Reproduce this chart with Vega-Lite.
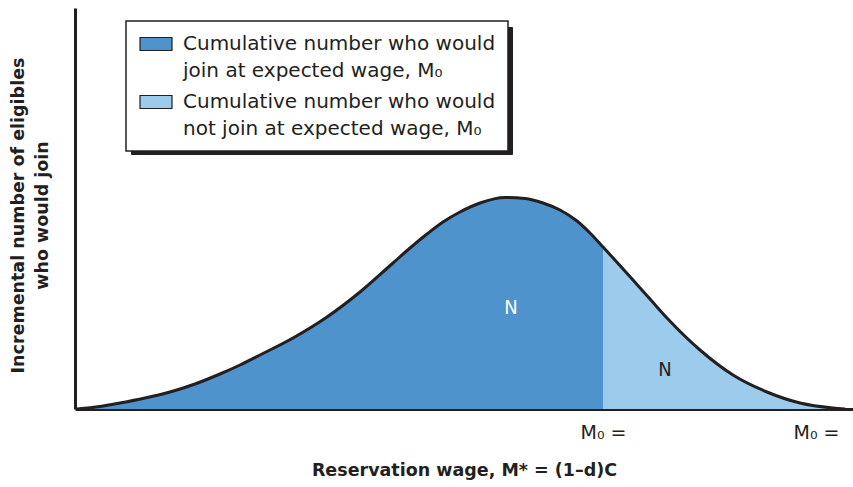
{
  "$schema": "https://vega.github.io/schema/vega-lite/v6.json",
  "autosize": {"type": "none"},
  "padding": {"left": 75, "top": 8, "right": 0, "bottom": 78},
  "width": 778,
  "height": 401,
  "background": "white",
  "config": {
    "view": {"stroke": null},
    "font": "DejaVu Sans",
    "axis": {"domainColor": "#231f20", "domainWidth": 3, "grid": false, "ticks": false, "tickSize": 0, "titleColor": "#231f20", "labelColor": "#231f20", "titleFont": "DejaVu Sans", "labelFont": "DejaVu Sans"}
  },
  "datasets": {
    "curve": [
      {"x": 2, "y": 0, "group": "join"},
      {"x": 25, "y": 2.5, "group": "join"},
      {"x": 45, "y": 6, "group": "join"},
      {"x": 70, "y": 11, "group": "join"},
      {"x": 95, "y": 17, "group": "join"},
      {"x": 120, "y": 25, "group": "join"},
      {"x": 145, "y": 35, "group": "join"},
      {"x": 165, "y": 44, "group": "join"},
      {"x": 185, "y": 54, "group": "join"},
      {"x": 218, "y": 71, "group": "join"},
      {"x": 252, "y": 92, "group": "join"},
      {"x": 285, "y": 117, "group": "join"},
      {"x": 318, "y": 146, "group": "join"},
      {"x": 335, "y": 161, "group": "join"},
      {"x": 352, "y": 175, "group": "join"},
      {"x": 368, "y": 187, "group": "join"},
      {"x": 385, "y": 197, "group": "join"},
      {"x": 405, "y": 206, "group": "join"},
      {"x": 430, "y": 211.5, "group": "join"},
      {"x": 450, "y": 210.5, "group": "join"},
      {"x": 468, "y": 206, "group": "join"},
      {"x": 485, "y": 199, "group": "join"},
      {"x": 502, "y": 188, "group": "join"},
      {"x": 515, "y": 176, "group": "join"},
      {"x": 528, "y": 162, "group": "join"},
      {"x": 528, "y": 162, "group": "notjoin"},
      {"x": 558, "y": 129, "group": "notjoin"},
      {"x": 575, "y": 110, "group": "notjoin"},
      {"x": 592, "y": 91, "group": "notjoin"},
      {"x": 625, "y": 59, "group": "notjoin"},
      {"x": 658, "y": 34, "group": "notjoin"},
      {"x": 692, "y": 17, "group": "notjoin"},
      {"x": 725, "y": 6, "group": "notjoin"},
      {"x": 758, "y": 1, "group": "notjoin"},
      {"x": 770, "y": 0, "group": "notjoin"}
    ],
    "labels": [
      {"x": 436, "y": 101, "text": "N", "group": "join"},
      {"x": 590, "y": 39, "text": "N", "group": "notjoin"}
    ]
  },
  "layer": [
    {
      "data": {"name": "curve"},
      "mark": {"type": "point", "opacity": 0},
      "encoding": {
        "x": {"field": "x", "type": "quantitative"},
        "y": {"field": "y", "type": "quantitative"},
        "color": {
          "field": "group", "type": "nominal",
          "scale": {"domain": ["shadow join", "shadow notjoin"], "range": ["#231f20", "#231f20"]},
          "legend": {
            "title": null,
            "orient": "none",
            "zindex": 0,
            "legendX": 56,
            "legendY": 19,
            "padding": 0,
            "fillColor": "#231f20",
            "strokeColor": "#231f20",
            "symbolType": "M-1,-1H12.7V1H-1Z",
            "symbolSize": 3025,
            "symbolFillColor": "#231f20",
            "symbolStrokeColor": "#231f20",
            "symbolOpacity": 1,
            "labelExpr": "''",
            "labelFontSize": 1,
            "labelOffset": 0,
            "rowPadding": 7
          }
        }
      }
    },
    {
      "data": {"name": "curve"},
      "mark": {"type": "area", "interpolate": "monotone"},
      "encoding": {
        "x": {
          "field": "x", "type": "quantitative",
          "scale": {"domain": [0, 778], "nice": false, "zero": false},
          "axis": {
            "values": [528, 741],
            "labelExpr": "'M₀ ='",
            "labelFontSize": 19,
            "labelBaseline": "alphabetic",
            "labelPadding": 29,
            "labelFlush": false,
            "labelOverlap": false,
            "title": "Reservation wage, M* = (1–d)C",
            "titleFontSize": 17.5,
            "titleFontWeight": "bold",
            "titleBaseline": "middle",
            "titleY": 61
          }
        },
        "y": {
          "field": "y", "type": "quantitative", "stack": null,
          "scale": {"domain": [0, 401], "nice": false},
          "axis": {
            "labels": false,
            "title": ["Incremental number of eligibles", "who would join"],
            "titleFontSize": 17.5,
            "titleFontWeight": "bold",
            "titleLineHeight": 24,
            "titleBaseline": "middle",
            "titleX": -57,
            "titleY": 207
          }
        },
        "fill": {
          "field": "group", "type": "nominal",
          "scale": {"domain": ["join", "notjoin"], "range": ["#4f93cd", "#9dcbeb"]},
          "legend": {
            "title": null,
            "orient": "none",
            "zindex": 1,
            "legendX": 51,
            "legendY": 13,
            "padding": 12,
            "fillColor": "white",
            "strokeColor": "#231f20",
            "symbolType": "M-0.9,-0.65H2.3V0.65H-0.9Z",
            "symbolSize": 400,
            "symbolStrokeColor": "#231f20",
            "symbolStrokeWidth": 1.2,
            "symbolOpacity": 1,
            "labelExpr": "datum.value == 'join' ? ['Cumulative number who would', 'join at expected wage, M₀'] : ['Cumulative number who would', 'not join at expected wage, M₀']",
            "labelFont": "DejaVu Sans",
            "labelFontSize": 20,
            "labelColor": "#231f20",
            "labelLimit": 500,
            "labelOffset": 23,
            "rowPadding": 10,
            "encoding": {
              "labels": {"lineHeight": {"value": 27}},
              "legend": {"strokeWidth": {"value": 1.5}}
            }
          }
        }
      }
    },
    {
      "data": {"name": "curve"},
      "transform": [{"filter": "datum.group == 'join' || datum.x > 528"}],
      "mark": {"type": "line", "interpolate": "monotone", "color": "#231f20", "strokeWidth": 3},
      "encoding": {
        "x": {"field": "x", "type": "quantitative"},
        "y": {"field": "y", "type": "quantitative"}
      }
    },
    {
      "data": {"name": "labels"},
      "mark": {"type": "text", "fontSize": 20, "font": "DejaVu Sans Condensed", "align": "center", "baseline": "middle"},
      "encoding": {
        "x": {"field": "x", "type": "quantitative"},
        "y": {"field": "y", "type": "quantitative"},
        "text": {"field": "text"},
        "color": {"condition": {"test": "datum.group == 'join'", "value": "white"}, "value": "#231f20"}
      }
    }
  ]
}
